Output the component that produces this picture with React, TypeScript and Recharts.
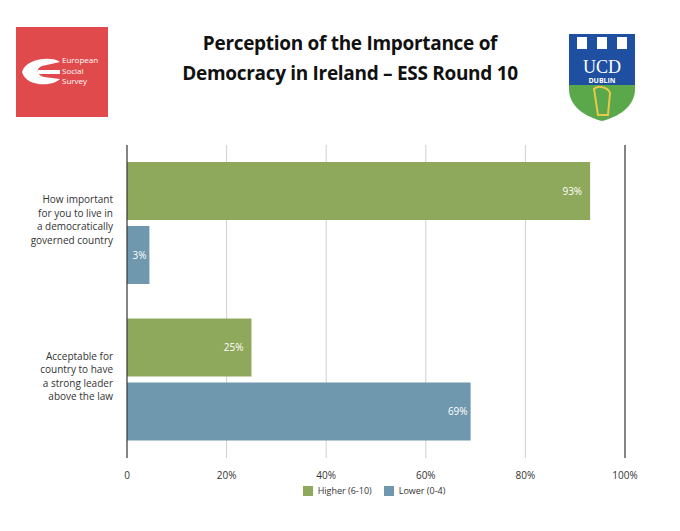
import React from "react";
import { BarChart, Bar, XAxis, YAxis, CartesianGrid, ReferenceLine, LabelList } from "recharts";

const questions = [
  ["How important", "for you to live in", "a democratically", "governed country"],
  ["Acceptable for", "country to have", "a strong leader", "above the law"],
];
const higher = [93, 25];
const lower = [4.5, 69];
const higherLabels = ["93%", "25%"];
const lowerLabels = ["3%", "69%"];
const xTicks = [0, 20, 40, 60, 80, 100];

const GREEN = "#8fa95c";
const BLUE = "#6f97ae";
const FONT = "'Open Sans', 'DejaVu Sans', sans-serif";

const data = questions.map((q, i) => ({
  name: q.join("|"),
  higher: higher[i],
  lower: lower[i],
  higherLabel: higherLabels[i],
  lowerLabel: lowerLabels[i],
}));

function QuestionTick(props: any) {
  const { x, y, payload } = props;
  const lines: string[] = payload.value.split("|");
  return (
    <text x={x - 6} y={y - 10} textAnchor="end" fontSize={10} fill="#333" fontFamily={FONT}>
      {lines.map((l, i) => (
        <tspan key={i} x={x - 6} dy={i === 0 ? -10 : 13.5}>
          {l}
        </tspan>
      ))}
    </text>
  );
}

function LegendBox() {
  const item = (c: string, t: string) => (
    <span style={{ display: "inline-flex", alignItems: "center", marginRight: 12 }}>
      <span style={{ width: 10, height: 10, background: c, marginRight: 5 }} />
      {t}
    </span>
  );
  return (
    <div
      style={{
        position: "absolute",
        left: 0,
        top: 484,
        width: 680,
        paddingLeft: 80,
        boxSizing: "border-box",
        textAlign: "center",
        fontSize: 9,
        color: "#333",
        fontFamily: FONT,
      }}
    >
      {item(GREEN, "Higher (6-10)")}
      {item(BLUE, "Lower (0-4)")}
    </div>
  );
}

function EssLogo() {
  return (
    <svg width={92} height={90} style={{ position: "absolute", left: 16, top: 27 }}>
      <rect width={92} height={90} fill="#e04a4c" />
      <path d="M6 45 C10 31, 36 29, 44 35 L26 39 C20 41, 20 48, 28 50 L44 52 C36 60, 10 60, 6 45 Z" fill="#fff" />
      <rect x={22} y={43} width={22} height={4} fill="#fff" />
      <text x={46} y={36} fontSize={8} fill="#fff" fontFamily={FONT}>
        <tspan x={46}>European</tspan>
        <tspan x={46} dy={10.5}>Social</tspan>
        <tspan x={46} dy={10.5}>Survey</tspan>
      </text>
    </svg>
  );
}

function UcdLogo() {
  return (
    <svg width={68} height={94} style={{ position: "absolute", left: 568, top: 27 }}>
      <defs>
        <clipPath id="shield">
          <path d="M1 7 L67 7 L67 62 C67 80, 50 90, 34 94 C18 90, 1 80, 1 62 Z" />
        </clipPath>
      </defs>
      <g clipPath="url(#shield)">
        <rect width={68} height={58} fill="#1f4fa0" />
        <rect y={58} width={68} height={40} fill="#5aa84a" />
      </g>
      {[14, 34, 54].map((cx) => (
        <rect key={cx} x={cx - 5} y={10} width={10} height={12} fill="#fff" />
      ))}
      <text x={34} y={46} textAnchor="middle" fontSize={18} fill="#fff" fontFamily="'Liberation Serif', serif">UCD</text>
      <text x={34} y={56} textAnchor="middle" fontSize={7} fill="#fff" fontFamily={FONT} fontWeight="bold">DUBLIN</text>
      <path d="M26 62 C30 58, 40 60, 42 66 L40 88 L30 88 Z" fill="none" stroke="#e8c84a" strokeWidth={2} />
    </svg>
  );
}

export default function App() {
  return (
    <div style={{ position: "absolute", left: 0, top: 0, width: 680, height: 531, background: "#fff" }}>
      <div
        style={{
          position: "absolute",
          left: 150,
          top: 28,
          width: 400,
          textAlign: "center",
          fontFamily: "'Open Sans', 'Liberation Sans', sans-serif",
          fontWeight: "bold",
          fontSize: 19,
          lineHeight: "30px",
          color: "#111",
          letterSpacing: -0.3,
        }}
      >
        Perception of the Importance of
        <br />
        Democracy in Ireland – ESS Round 10
      </div>
      <EssLogo />
      <UcdLogo />
      <BarChart
        width={680}
        height={531}
        data={data}
        layout="vertical"
        margin={{ top: 145, right: 55, bottom: 45, left: 7 }}
        barCategoryGap={17}
        barGap={6}
        style={{ position: "absolute", left: 0, top: 0 }}
      >
        <CartesianGrid horizontal={false} vertical stroke="#cfcfcf" />
        <XAxis
          type="number"
          domain={[0, 100]}
          ticks={xTicks}
          tickFormatter={(v) => (v === 0 ? "0" : `${v}%`)}
          axisLine={false}
          tickLine={false}
          tick={{ fontSize: 10, fill: "#333", fontFamily: FONT }}
          tickMargin={8}
          height={28}
        />
        <YAxis type="category" dataKey="name" width={120} axisLine={false} tickLine={false} tick={<QuestionTick />} />
        <ReferenceLine x={0} stroke="#222" strokeWidth={1} />
        <ReferenceLine x={100} stroke="#222" strokeWidth={1} />
        <Bar dataKey="higher" fill={GREEN} isAnimationActive={false}>
          <LabelList dataKey="higherLabel" position="insideRight" fill="#fff" fontSize={10} fontFamily={FONT} offset={8} />
        </Bar>
        <Bar dataKey="lower" fill={BLUE} isAnimationActive={false}>
          <LabelList dataKey="lowerLabel" position="insideRight" fill="#fff" fontSize={10} fontFamily={FONT} offset={3} />
        </Bar>
      </BarChart>
      <LegendBox />
    </div>
  );
}
